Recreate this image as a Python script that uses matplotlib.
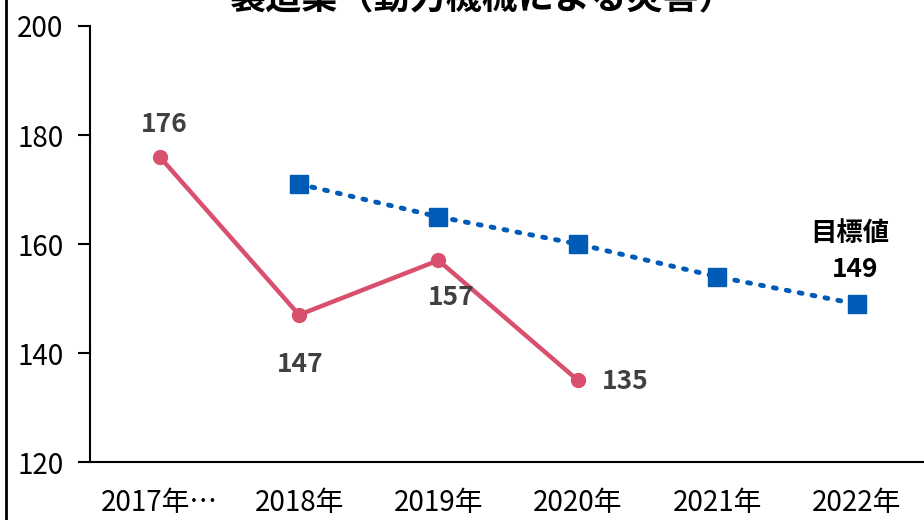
import matplotlib
matplotlib.use('Agg')
from matplotlib import pyplot as plt
from matplotlib.patches import Rectangle

plt.rcParams['font.family'] = ['Noto Sans CJK JP', 'DejaVu Sans']

# データ
years = ['2017年…', '2018年', '2019年', '2020年', '2021年', '2022年']
actual = [176, 147, 157, 135]            # 実績 (2017-2020)
target = [171, 165, 160, 154, 149]       # 目標 (2018-2022)
actual_x = [0, 1, 2, 3]
target_x = [1, 2, 3, 4, 5]

pink = '#D9506F'
blue = '#005BB7'
lab = '#404040'

fig = plt.figure(figsize=(9.24, 5.2), dpi=100)
ax = fig.add_axes([0.0974, 0.1115, 0.905, 0.8385])

ax.plot(actual_x, actual, color=pink, lw=3.2, marker='o', ms=10, zorder=3)
ax.plot(target_x, target, color=blue, lw=3.5, ls=(0, (0.6, 2.1)),
        dash_capstyle='round', marker='s', ms=13, zorder=3)

ax.set_xlim(-0.5, 5.5)
ax.set_ylim(120, 200)
ax.set_yticks([120, 140, 160, 180, 200])
ax.set_xticks(range(len(years)))
ax.set_xticklabels(years)
ax.tick_params(axis='y', labelsize=20, length=9, width=1.5, pad=10, direction='out')
ax.tick_params(axis='x', labelsize=20, length=0, pad=19)
for s in ['top', 'right']:
    ax.spines[s].set_visible(False)
ax.spines['left'].set_linewidth(1.5)
ax.spines['bottom'].set_linewidth(1.5)

# データラベル
fs = 19
ax.annotate(str(actual[0]), (actual_x[0], actual[0]), xytext=(3, 23), textcoords='offset points',
            ha='center', va='center', fontsize=fs, fontweight='bold', color=lab)
ax.annotate(str(actual[1]), (actual_x[1], actual[1]), xytext=(1, -36), textcoords='offset points',
            ha='center', va='center', fontsize=fs, fontweight='bold', color=lab)
ax.annotate(str(actual[2]), (actual_x[2], actual[2]), xytext=(9, -27), textcoords='offset points',
            ha='center', va='center', fontsize=fs, fontweight='bold', color=lab)
ax.annotate(str(actual[3]), (actual_x[3], actual[3]), xytext=(34, -1), textcoords='offset points',
            ha='center', va='center', fontsize=fs, fontweight='bold', color=lab)
ax.annotate(str(target[-1]), (target_x[-1], target[-1]), xytext=(-1, 25), textcoords='offset points',
            ha='center', va='center', fontsize=fs, fontweight='bold', color='black')
ax.annotate('目標値', (target_x[-1], target[-1]), xytext=(-5, 51), textcoords='offset points',
            ha='center', va='center', fontsize=fs, fontweight='bold', color='black')

# タイトル（上が切れている）
fig.text(0.522, 1 - 8 / 520, '製造業（動力機械による災害）', ha='center', va='baseline',
         fontsize=26, fontweight='bold')

# 枠線
fig.patches.append(Rectangle((6 / 924, -0.1), 2, 2, transform=fig.transFigure,
                             fill=False, lw=2, ec='black'))

fig.savefig('out.png', dpi=100)
